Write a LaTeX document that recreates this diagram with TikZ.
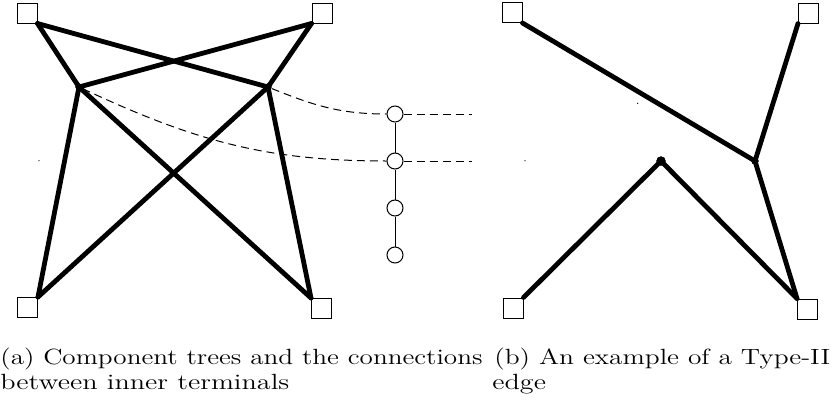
\documentclass[tikz,border=0pt]{standalone}
\usepackage{graphicx}
\begin{document}
\begin{tikzpicture}[x=0.5pt,y=-0.5pt,
  term/.style={draw,line width=0.5pt,minimum size=10pt,inner sep=0pt,fill=white},
  tedge/.style={line width=2.4pt,line cap=round,line join=round},
  inner/.style={circle,fill=black,inner sep=0pt,minimum size=3.6pt},
  bigdot/.style={circle,fill=black,inner sep=0pt,minimum size=4.6pt},
  pathnode/.style={circle,draw,line width=0.5pt,fill=white,inner sep=0pt,minimum size=8pt},
  conn/.style={line width=0.5pt,dash pattern=on 4pt off 2.5pt},
  capt/.style={anchor=base west,inner sep=0pt,font=\fontsize{11}{13}\selectfont}]
\useasboundingbox (0,0) rectangle (832,408);
% left picture
\node[term] (ltl) at (27,13) {};
\node[term] (ltr) at (322,13) {};
\node[term] (lbl) at (27.5,307.5) {};
\node[term] (lbr) at (321.5,308.5) {};
\node[inner] (a) at (79,87) {};
\node[inner] (b) at (268,87) {};
\draw[tedge] (ltl.south east) -- (b.center);
\draw[tedge] (ltl.south east) -- (a.center);
\draw[tedge] (ltr.south west) -- (a.center);
\draw[tedge] (ltr.south west) -- (b.center);
\draw[tedge] (a.center) -- (lbl.north east);
\draw[tedge] (a.center) -- (lbr.north west);
\draw[tedge] (b.center) -- (lbl.north east);
\draw[tedge] (b.center) -- (lbr.north west);
\fill (a) circle (1.8pt);
\fill (b) circle (1.8pt);
% path of inner terminals
\node[pathnode] (p1) at (395,114) {};
\node[pathnode] (p2) at (395,161) {};
\node[pathnode] (p3) at (395,208) {};
\node[pathnode] (p4) at (395,255) {};
\draw[line width=0.5pt] (p1) -- (p2) -- (p3) -- (p4);
\coordinate (e1) at (472,114);
\coordinate (e2) at (472,161);
\draw[conn] (b) to[out=-22,in=180] (p1.west);
\draw[conn] (a) to[out=-25,in=180] (p2.west);
\draw[conn] (p1.east) -- (e1);
\draw[conn] (p2.east) -- (e2);
% right picture
\node[term] (rtl) at (512,12.5) {};
\node[term] (rtr) at (808.5,13) {};
\node[term] (rbl) at (513,308) {};
\node[term] (rbr) at (807.5,309) {};
\node[inner] (c) at (755,161) {};
\node[bigdot] (d) at (661,161) {};
\draw[tedge] (rtl.south east) -- (c.center);
\draw[tedge] (rtr.south west) -- (c.center);
\draw[tedge] (c.center) -- (rbr.north west);
\draw[tedge] (d.center) -- (rbl.north east);
\draw[tedge] (d.center) -- (rbr.north west);
\fill (c) circle (1.8pt);
\fill (d) circle (2.3pt);
% tiny marks
\fill (39,160.7) circle (0.35pt);
\fill (525,160.7) circle (0.35pt);
\fill (637.7,103.3) circle (0.35pt);
% captions
\node[capt] (ca1) at (0,364) {\scalebox{1.235}[1]{(a) Component trees and the connections}};
\node[capt] (ca2) at (0,389) {\scalebox{1.28}[1]{between inner terminals}};
\node[capt] (cb1) at (494,364) {\scalebox{1.245}[1]{(b) An example of a Type-II}};
\node[capt] (cb2) at (492,389) {\scalebox{1.28}[1]{edge}};
\end{tikzpicture}
\end{document}
